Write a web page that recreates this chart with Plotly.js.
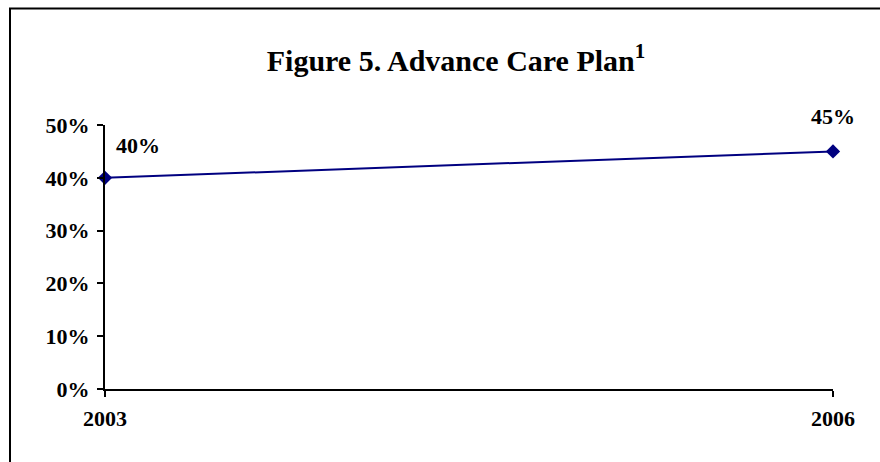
<!DOCTYPE html>
<html>
<head>
<meta charset="utf-8">
<script src="https://cdn.plot.ly/plotly-3.0.1.min.js"></script>
<style>
  html, body { margin: 0; padding: 0; background: #ffffff; }
  #chart { width: 880px; height: 462px; }
</style>
</head>
<body>
<div id="chart"></div>
<script>
// ---- data ----
const years = ["2003", "2006"];
const values = [0.40, 0.45];
const valueLabels = ["40%", "45%"];
const yTickVals = [0, 0.1, 0.2, 0.3, 0.4, 0.5];
const yTickText = ["0%", "10%", "20%", "30%", "40%", "50%"];
const chartTitle = "Figure 5. Advance Care Plan<sup>1</sup>";

// ---- layout geometry ----
const W = 880, H = 462;
const M = { l: 105, r: 47, t: 125, b: 73 };
const pw = W - M.l - M.r, ph = H - M.t - M.b;
const px2x = p => (p - M.l) / pw;
const py2y = p => 1 - (p - M.t) / ph;

const FONT = "Liberation Serif, Times New Roman, serif";
const NAVY = "#000080";

const trace = {
  type: "scatter",
  mode: "lines+markers",
  x: years,
  y: values,
  line: { color: NAVY, width: 2 },
  marker: { symbol: "diamond", size: 11, color: NAVY },
  hoverinfo: "skip",
  cliponaxis: false
};

const labelOffsets = [
  { xanchor: "left", xshift: 9, yshift: 18 },
  { xanchor: "center", xshift: 0, yshift: 20 }
];

// category axis: annotations positioned by category index
const annotations = years.map((yr, i) => ({
  x: i, y: values[i], xref: "x", yref: "y",
  text: "<b>" + valueLabels[i] + "</b>",
  showarrow: false,
  xanchor: labelOffsets[i].xanchor,
  yanchor: "bottom",
  xshift: labelOffsets[i].xshift,
  yshift: labelOffsets[i].yshift,
  font: { family: FONT, size: 22, color: "#000" }
}));

const layout = {
  width: W, height: H,
  margin: M,
  paper_bgcolor: "#ffffff",
  plot_bgcolor: "#ffffff",
  showlegend: false,
  font: { family: FONT, color: "#000" },
  title: {
    text: "<b>" + chartTitle + "</b>",
    font: { family: FONT, size: 30, color: "#000" },
    xref: "container", yref: "container",
    x: 456 / W, xanchor: "center",
    y: 1 - 60 / H, yanchor: "middle"
  },
  xaxis: {
    type: "category",
    range: [0, years.length - 1],
    showgrid: false, zeroline: false,
    showline: true, linecolor: "#000", linewidth: 2,
    ticks: "outside", ticklen: 6, tickwidth: 2, tickcolor: "#000",
    tickfont: { family: FONT, size: 22, color: "#000" },
    ticklabelstandoff: 3,
    fixedrange: true
  },
  yaxis: {
    range: [0, 0.5],
    tickvals: yTickVals,
    showgrid: false, zeroline: false,
    showline: true, linecolor: "#000", linewidth: 2,
    ticks: "outside", ticklen: 6, tickwidth: 2, tickcolor: "#000",
    tickfont: { family: FONT, size: 22, color: "#000" },
    ticklabelstandoff: 3,
    fixedrange: true
  },
  annotations: annotations,
  shapes: [{
    type: "rect", xref: "paper", yref: "paper",
    x0: px2x(10), x1: px2x(900), y0: py2y(8.5), y1: py2y(480),
    line: { color: "#000", width: 2 },
    fillcolor: "rgba(0,0,0,0)",
    layer: "below"
  }]
};

// bold tick labels
layout.yaxis.ticktext = yTickText.map(t => "<b>" + t + "</b>");
layout.xaxis.tickvals = years;
layout.xaxis.ticktext = years.map(t => "<b>" + t + "</b>");

Plotly.newPlot("chart", [trace], layout, { displayModeBar: false, staticPlot: true });
</script>
</body>
</html>
